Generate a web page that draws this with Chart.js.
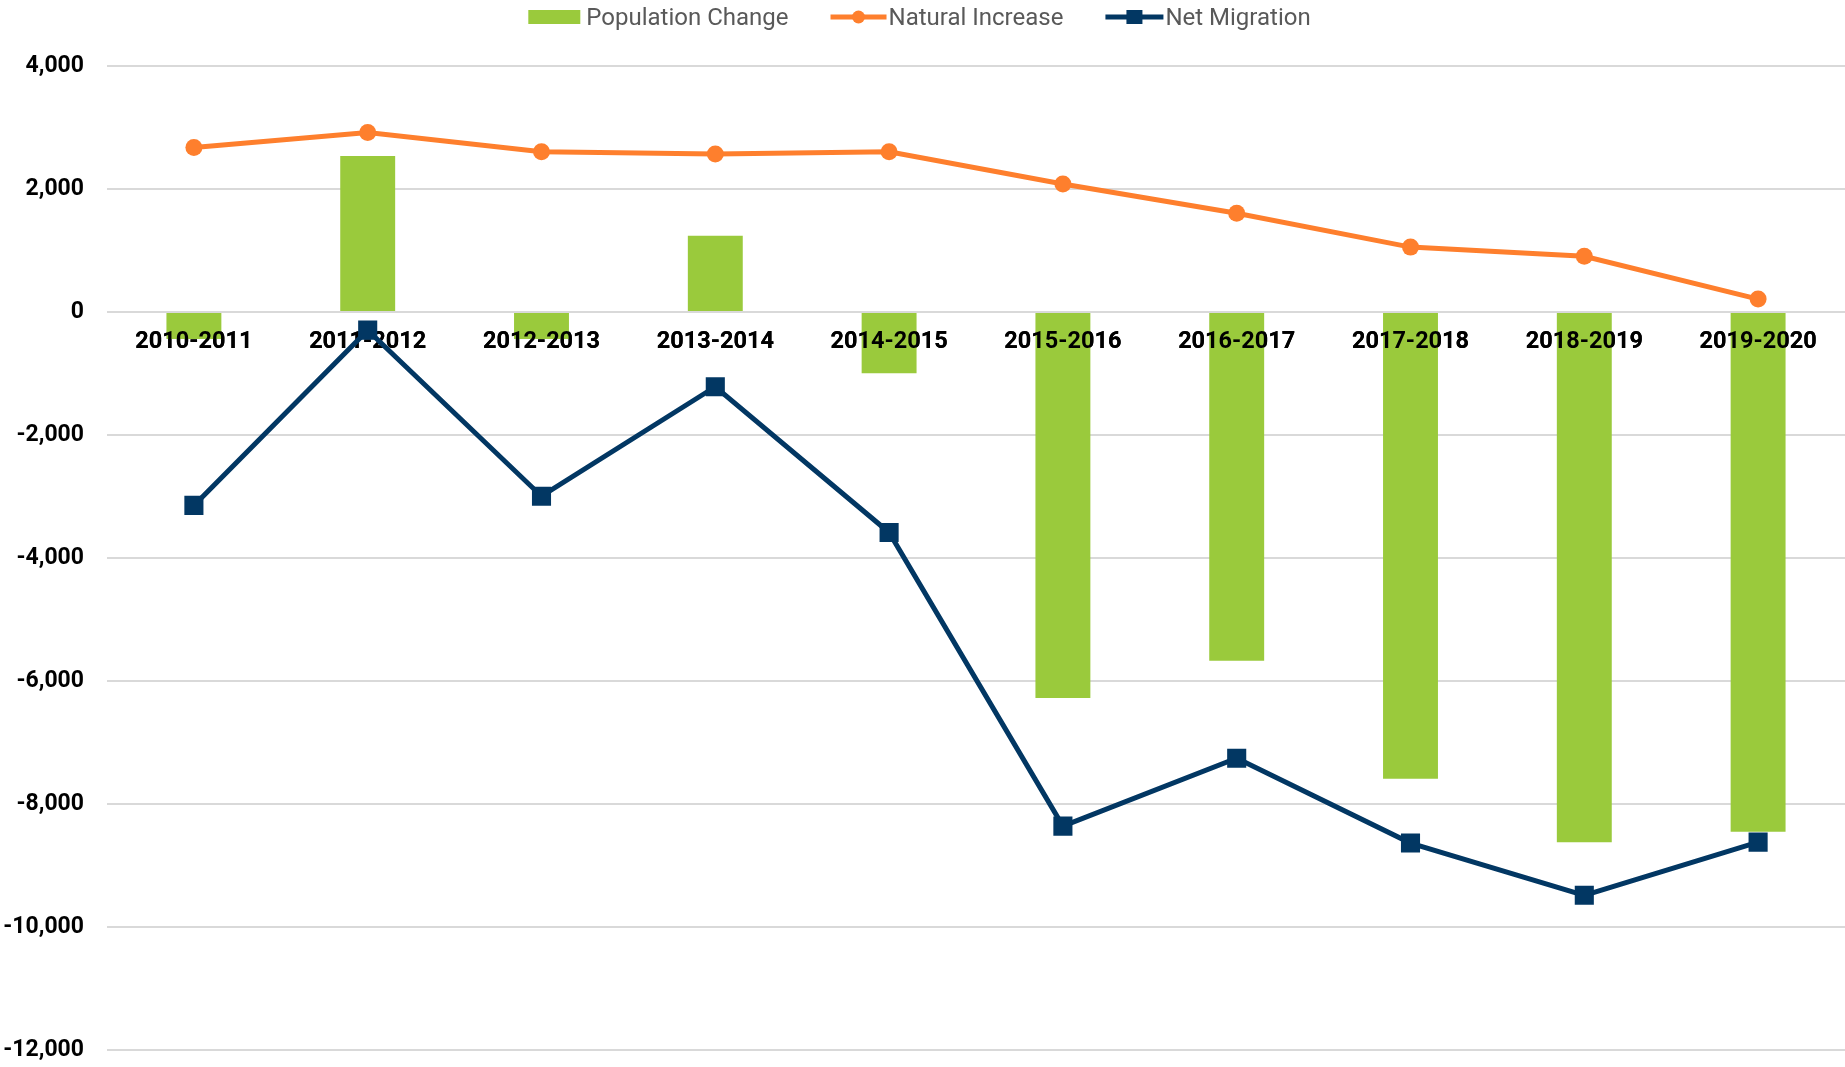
<!DOCTYPE html>
<html>
<head>
<meta charset="utf-8">
<script src="https://cdn.jsdelivr.net/npm/chart.js@4/dist/chart.umd.min.js"></script>
<style>
  html, body { margin: 0; padding: 0; background: #fff; }
  #chart { display: block; }
</style>
</head>
<body>
<canvas id="chart" width="1845" height="1067"></canvas>
<script>
// Chart values
const categories = ["2010-2011", "2011-2012", "2012-2013", "2013-2014", "2014-2015",
                    "2015-2016", "2016-2017", "2017-2018", "2018-2019", "2019-2020"];
const populationChange = [-440, 2535, -440, 1240, -995, -6275, -5670, -7590, -8620, -8450];
const naturalIncrease = [2675, 2920, 2605, 2570, 2605, 2080, 1605, 1055, 905, 210];
const netMigration = [-3145, -295, -2995, -1215, -3585, -8360, -7255, -8635, -9485, -8620];
const yTicks = { min: -12000, max: 4000, step: 2000 };

const GREEN = "#9aca3c";
const ORANGE = "#fe7f2d";
const NAVY = "#023763";

// axis labels sit over the bars but under the lines
const labelsOverBars = {
  id: "labelsOverBars",
  afterDatasetDraw(chart, args) {
    if (args.meta.type === "bar") {
      chart.scales.x.drawLabels(chart.chartArea);
    }
  }
};

// legend drawn by hand so the markers look like the original (bar swatch, line + marker)
const drawMarker = (ctx, kind, x) => {
  if (kind === "bar") {
    ctx.fillStyle = GREEN;
    ctx.fillRect(x, 10, 52, 14);
    return 52;
  }
  const w = kind === "circle" ? 56 : 58;
  ctx.fillStyle = kind === "circle" ? ORANGE : NAVY;
  ctx.fillRect(x, 14.5, w, 5);
  ctx.beginPath();
  if (kind === "circle") {
    ctx.arc(x + w / 2, 17, 6.5, 0, Math.PI * 2);
  } else {
    ctx.rect(x + w / 2 - 8, 10, 16, 14);
  }
  ctx.fill();
  return w;
};

const topLegend = {
  id: "topLegend",
  afterDraw(chart) {
    const ctx = chart.ctx;
    const kinds = ["bar", "circle", "square"];
    const gaps = [6, 2, 2];
    const itemGap = 42;
    ctx.save();
    ctx.font = "24px Roboto";
    ctx.textBaseline = "alphabetic";
    const items = chart.data.datasets.map((ds, i) => {
      const markerW = kinds[i] === "bar" ? 52 : (kinds[i] === "circle" ? 56 : 58);
      return { text: ds.label, kind: kinds[i], gap: gaps[i], w: markerW + gaps[i] + ctx.measureText(ds.label).width };
    });
    const total = items.reduce((s, it) => s + it.w, 0) + itemGap * (items.length - 1);
    let x = chart.width / 2 - total / 2 - 3;
    items.forEach(it => {
      const mw = drawMarker(ctx, it.kind, x);
      ctx.fillStyle = "#595959";
      ctx.fillText(it.text, x + mw + it.gap, 25);
      x += it.w + itemGap;
    });
    ctx.restore();
  }
};

const build = () => {
  Chart.defaults.font.family = "Roboto";
  new Chart(document.getElementById("chart"), {
    data: {
      labels: categories,
      datasets: [
        {
          type: "bar",
          label: "Population Change",
          data: populationChange,
          backgroundColor: GREEN,
          barPercentage: 0.316,
          categoryPercentage: 1,
          order: 3
        },
        {
          type: "line",
          label: "Natural Increase",
          data: naturalIncrease,
          borderColor: ORANGE,
          backgroundColor: ORANGE,
          borderWidth: 5,
          pointRadius: 8.5,
          pointBorderWidth: 0,
          tension: 0,
          order: 2
        },
        {
          type: "line",
          label: "Net Migration",
          data: netMigration,
          borderColor: NAVY,
          backgroundColor: NAVY,
          borderWidth: 5,
          pointStyle: "rect",
          pointRadius: 13.5,
          pointBorderWidth: 0,
          tension: 0,
          order: 1
        }
      ]
    },
    options: {
      responsive: false,
      animation: false,
      layout: { autoPadding: false, padding: { left: 3, right: -5, top: 66, bottom: 17 } },
      plugins: {
        tooltip: { enabled: false },
        legend: { display: false }
      },
      scales: {
        x: {
          type: "category",
          position: { y: 0 },
          grid: { display: false, drawTicks: false },
          border: { display: false },
          ticks: {
            color: "#000",
            padding: 16,
            maxRotation: 0,
            font: { size: 23.5, weight: "bold" }
          },
          afterFit: scale => {
            scale.paddingLeft = 0;
            scale.paddingRight = 0;
          }
        },
        y: {
          min: yTicks.min,
          max: yTicks.max,
          grid: { color: "#d9d9d9", lineWidth: 2, tickLength: 23, tickColor: "transparent" },
          border: { display: false },
          ticks: {
            stepSize: yTicks.step,
            color: "#000",
            padding: 0,
            font: { size: 23, weight: "bold" },
            callback: v => Number(v).toLocaleString("en-US")
          },
          afterFit: scale => {
            scale.width = 104;
          }
        }
      }
    },
    plugins: [labelsOverBars, topLegend]
  });
};

document.fonts.load("bold 23px Roboto").then(build, build);
</script>
</body>
</html>
